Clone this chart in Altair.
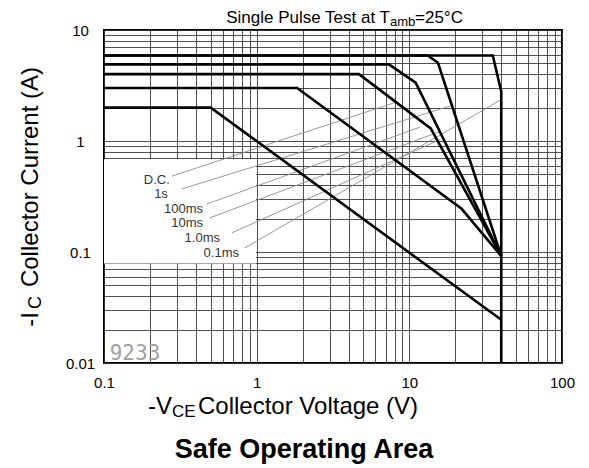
import altair as alt
import pandas as pd

# ---- curve data ----
series = ["D.C.", "1s", "100ms", "10ms", "1.0ms", "0.1ms"]
dc_v = [0.1, 0.5, 40]
dc_i = [2.0, 2.0, 0.0245]
s1_v = [0.1, 1.84, 22.0, 40]
s1_i = [3.0, 3.0, 0.245, 0.092]
ms100_v = [0.1, 4.68, 13.8, 40]
ms100_i = [4.0, 4.0, 1.30, 0.092]
ms10_v = [0.1, 7.35, 11.0, 40]
ms10_i = [4.9, 4.9, 3.36, 0.092]
ms1_v = [0.1, 13.2, 15.4, 40]
ms1_i = [5.9, 5.9, 5.07, 0.092]
ms01_v = [0.1, 35.2, 40, 40]
ms01_i = [5.9, 5.9, 2.79, 0.01]

# label anchors and leader lines
label_v = [0.270, 0.262, 0.445, 0.445, 0.575, 0.766]
label_i = [0.445, 0.333, 0.245, 0.183, 0.135, 0.097]
lead_v0 = [0.279, 0.324, 0.473, 0.494, 0.689, 0.838]
lead_i0 = [0.483, 0.370, 0.271, 0.203, 0.149, 0.109]
lead_v1 = [8.05, 19.0, 11.7, 15.9, 15.9, 40]
lead_i1 = [2.22, 2.09, 1.33, 1.22, 1.03, 2.36]

# blank box behind the labels
box_v = [0.1, 0.99]
box_i = [0.0787, 0.686]

x_ticks = [round(m * d, 4) for d in (0.1, 1, 10) for m in range(1, 10)] + [100]
y_ticks = [round(m * d, 4) for d in (0.01, 0.1, 1) for m in range(1, 10)] + [10]

curves_v = [dc_v, s1_v, ms100_v, ms10_v, ms1_v, ms01_v]
curves_i = [dc_i, s1_i, ms100_i, ms10_i, ms1_i, ms01_i]
rows = []
for name, vs, cs in zip(series, curves_v, curves_i):
    for k, (v, c) in enumerate(zip(vs, cs)):
        rows.append({"series": name, "k": k, "V": v, "I": c})
curve_df = pd.DataFrame(rows)

lab_df = pd.DataFrame({"series": series, "V": label_v, "I": label_i})
lead_df = pd.DataFrame({"V": lead_v0, "I": lead_i0, "V2": lead_v1, "I2": lead_i1})
box_df = pd.DataFrame({"V": [box_v[0]], "V2": [box_v[1]], "I": [box_i[0]], "I2": [box_i[1]]})
num_df = pd.DataFrame({"V": [0.109], "I": [0.0121], "t": ["9233"]})

FONT = "Liberation Sans"

xs = alt.Scale(type="log", domain=[0.1, 100], nice=False)
ys = alt.Scale(type="log", domain=[0.01, 10], nice=False)
X = alt.X("V:Q", scale=xs, axis=alt.Axis(
    values=x_ticks, format="~g", title=None, grid=True, ticks=False, domain=False,
    labelExpr="datum.value == 0.1 || datum.value == 1 || datum.value == 10 || datum.value == 100 ? datum.label : ''",
    labelFlush=False, labelOverlap=False, labelFontSize=15, labelPadding=12))
Y = alt.Y("I:Q", scale=ys, axis=alt.Axis(
    values=y_ticks, format="~g", title=None, grid=True, ticks=False, domain=False,
    labelExpr="datum.value == 0.01 || datum.value == 0.1 || datum.value == 1 || datum.value == 10 ? datum.label : ''",
    labelOverlap=False, labelFontSize=15, labelPadding=24, labelAlign="center"))

box = alt.Chart(box_df).mark_rect(fill="white", stroke=None).encode(x=X, x2="V2:Q", y=Y, y2="I2:Q")
leaders = alt.Chart(lead_df).mark_rule(color="#8c8c8c", strokeWidth=0.9).encode(
    x=X, x2="V2:Q", y=Y, y2="I2:Q")
curves = alt.Chart(curve_df).mark_line(color="black", strokeWidth=2.6, strokeJoin="miter").encode(
    x=X, y=Y, detail="series:N", order="k:Q")
labels = alt.Chart(lab_df).mark_text(align="right", baseline="middle", font=FONT, fontSize=13,
                                     color="#333333").encode(x=X, y=Y, text="series:N")
num = alt.Chart(num_df).mark_text(align="left", baseline="middle", font="DejaVu Sans Mono",
                                   fontSize=21, color="#a0a0a0").encode(x=X, y=Y, text="t:N")

one = pd.DataFrame({"a": [0]})


def txt(s, x, y, size, **kw):
    return alt.Chart(one).mark_text(text=s, font=FONT, fontSize=size, color="black", **kw).encode(
        x=alt.value(x), y=alt.value(y))


texts = [
    txt("Single Pulse Test at T", 286, -12, 17, align="right", baseline="middle"),
    txt("amb", 286, -8, 13, align="left", baseline="middle"),
    txt("=25°C", 311, -12, 17, align="left", baseline="middle"),
    txt("-V", 68, 377, 24, align="right", baseline="middle"),
    txt("CE", 68, 382, 17, align="left", baseline="middle"),
    txt("Collector Voltage (V)", 94, 377, 24, align="left", baseline="middle"),
    txt("Safe Operating Area", 200, 428, 27, align="center", baseline="alphabetic", fontWeight="bold"),
    txt("Collector Current (A)", -73, 37, 24, align="right", baseline="middle", angle=270),
    txt("C", -68, 266, 18, align="right", baseline="middle", angle=270),
    txt("-I", -73, 282, 24, align="right", baseline="middle", angle=270),
]

chart = alt.layer(box, leaders, curves, labels, num, *texts).properties(
    width=458, height=333,
    padding={"left": 96, "top": 22, "right": 15, "bottom": 106},
    autosize=alt.AutoSizeParams(type="none"),
).configure_view(stroke="black", strokeWidth=2).configure_axis(
    labelFont=FONT, labelColor="black", gridColor="#333333", gridOpacity=0.85, gridWidth=1
)

chart.save("out.html", embed_options={"renderer": "svg", "actions": False})
